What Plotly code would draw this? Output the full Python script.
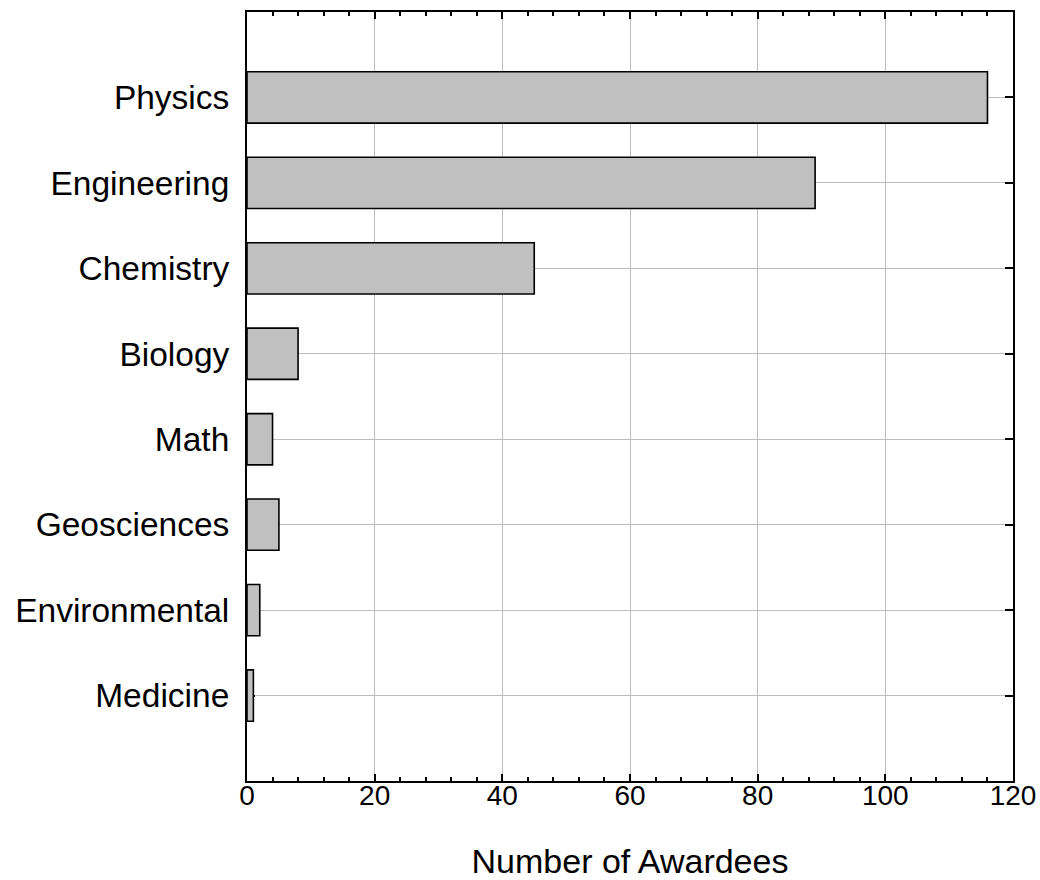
import plotly.graph_objects as go

# bottom-to-top order
categories = ["Medicine", "Environmental", "Geosciences", "Math",
              "Biology", "Chemistry", "Engineering", "Physics"]
awardees = [1, 2, 5, 4, 8, 45, 89, 116]

x_ticks = [0, 20, 40, 60, 80, 100, 120]

FONT = "Liberation Sans, Arial, sans-serif"

fig = go.Figure()
fig.add_trace(
    go.Bar(
        x=awardees,
        y=categories,
        orientation="h",
        width=0.6,
        marker={"color": "#c0c0c0", "line": {"color": "black", "width": 1.6}},
        showlegend=False,
    )
)

fig.update_xaxes(
    range=[0, 120],
    tickvals=x_ticks,
    ticks="inside",
    ticklen=7,
    tickwidth=2,
    tickcolor="black",
    minor={"dtick": 4, "ticks": "inside", "ticklen": 4, "tickwidth": 1.5,
           "tickcolor": "black", "showgrid": False},
    showline=True,
    linecolor="black",
    linewidth=2,
    mirror="ticks",
    showgrid=True,
    gridcolor="#bdbdbd",
    gridwidth=1.3,
    zeroline=False,
    automargin=False,
    tickfont={"size": 28, "color": "black"},
    ticklabelstandoff=-12,
    title={"text": "Number of Awardees", "font": {"size": 34, "color": "black"},
           "standoff": 49},
)

# y axis sits under the bars so the left-hand ticks are hidden, as in the original
fig.update_yaxes(
    type="category",
    categoryorder="array",
    categoryarray=categories,
    range=[-1, 8],
    ticks="inside",
    ticklen=8,
    tickwidth=2,
    tickcolor="black",
    showline=True,
    linecolor="black",
    linewidth=2,
    mirror="ticks",
    layer="below traces",
    showgrid=True,
    gridcolor="#bdbdbd",
    gridwidth=1.3,
    automargin=False,
    tickfont={"size": 33.5, "color": "black"},
    ticklabelstandoff=9,
)

fig.update_layout(
    width=1040,
    height=880,
    font={"family": FONT, "color": "black"},
    plot_bgcolor="white",
    paper_bgcolor="white",
    margin={"l": 247, "r": 27, "t": 12, "b": 99},
    bargap=0.4,
)

# page body has a default 8px margin; drop it so the figure sits at 0,0
fig.write_html(
    "out.html",
    config={"displayModeBar": False},
    post_script="document.body.style.margin = '0';",
)
